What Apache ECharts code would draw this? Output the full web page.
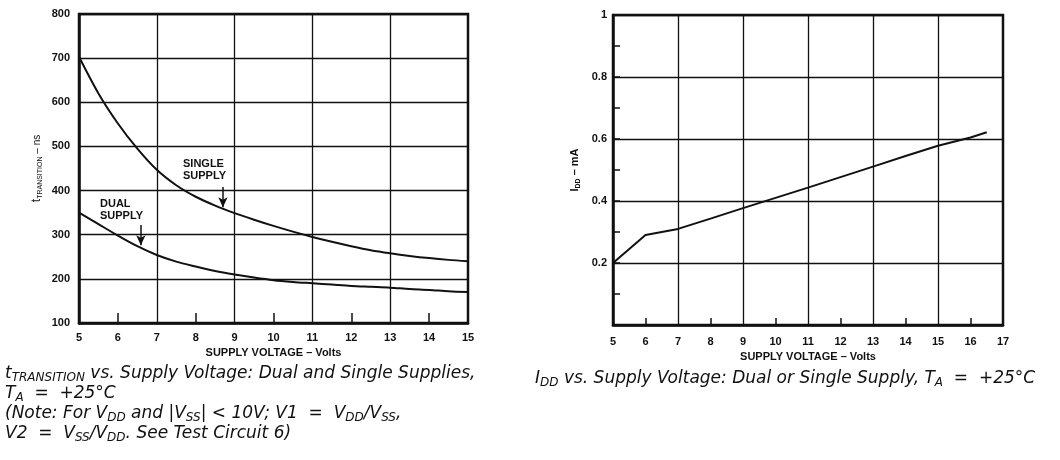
<!DOCTYPE html>
<html><head><meta charset="utf-8">
<script src="https://cdn.jsdelivr.net/npm/echarts@6/dist/echarts.min.js"></script>
<style>html,body{margin:0;padding:0;background:#fff}#c{width:1060px;height:460px}</style>
</head><body><div id="c"></div>
<script>
// ---- Left chart data ----
const leftXLabels = ['5','6','7','8','9','10','11','12','13','14','15'];
const leftYTicks = [100,200,300,400,500,600,700,800];
const curveX = [5, 5.5, 6, 6.5, 7, 7.5, 8, 8.5, 9, 9.5, 10, 10.5, 11, 11.5, 12, 12.5, 13, 13.5, 14, 14.5, 15];
const singleY = [703, 620, 552, 495, 447, 412, 386, 366, 349, 334, 320, 307, 295, 284, 274, 265, 258, 252, 247, 243, 240];
const dualY = [350, 324, 298, 274, 254, 239, 228, 218, 210, 203, 197, 193, 190, 187, 184, 182, 180, 177, 175, 172, 170];
// ---- Right chart data ----
const rightXLabels = ['5','6','7','8','9','10','11','12','13','14','15','16','17'];
const rightYLabels = ['0.2','0.4','0.6','0.8','1'];
const iddX = [5, 6, 7, 8, 9, 10, 11, 12, 13, 14, 15, 16, 16.5];
const iddY = [0.2, 0.29, 0.31, 0.343, 0.377, 0.41, 0.443, 0.477, 0.511, 0.545, 0.578, 0.605, 0.622];

const zip = (xs, ys) => xs.map((x, i) => [x, ys[i]]);
const FONT = 'Liberation Sans';
const CAP = 'DejaVu Sans';
const BLK = '#111';

const chart = echarts.init(document.getElementById('c'), null, {renderer: 'canvas'});

const gridBase = {show: true, borderColor: BLK, borderWidth: 2.5, backgroundColor: 'transparent'};
const tickLabel = {color: BLK, fontFamily: FONT, fontWeight: 'bold', fontSize: 11};
const axisName = {color: BLK, fontFamily: FONT, fontWeight: 'bold', fontSize: 11};
const capRich = {
  s: {fontSize: 17, fontStyle: 'italic', fontFamily: CAP, lineHeight: 20, fill: BLK},
  u: {fontSize: 12, fontStyle: 'italic', fontFamily: CAP, lineHeight: 12, verticalAlign: 'bottom', fill: BLK}
};

const option = {
  animation: false,
  grid: [
    Object.assign({left: 79, top: 14, width: 389, height: 309}, gridBase),
    Object.assign({left: 613, top: 15, width: 390, height: 310}, gridBase)
  ],
  xAxis: [
    {type: 'value', gridIndex: 0, min: 5, max: 15, show: false},
    {type: 'category', gridIndex: 0, data: leftXLabels, boundaryGap: false, position: 'bottom',
     axisLine: {show: true, lineStyle: {color: BLK, width: 2.5}},
     axisTick: {show: true, inside: true, length: 10, lineStyle: {color: BLK, width: 1.5},
                interval: (i) => i % 2 === 1},
     axisLabel: Object.assign({margin: 9, interval: 0}, tickLabel),
     splitLine: {show: true, lineStyle: {color: BLK, width: 1.3},
                 interval: (i) => i % 2 === 0 && i > 0 && i < leftXLabels.length - 1},
     name: 'SUPPLY VOLTAGE – Volts', nameLocation: 'middle', nameGap: 24, nameTextStyle: axisName},
    {type: 'value', gridIndex: 1, min: 5, max: 17, show: false},
    {type: 'category', gridIndex: 1, data: rightXLabels, boundaryGap: false, position: 'bottom',
     axisLine: {show: true, lineStyle: {color: BLK, width: 2.5}},
     axisTick: {show: true, inside: true, length: 7, lineStyle: {color: BLK, width: 1.5},
                interval: (i) => i % 2 === 1},
     axisLabel: Object.assign({margin: 11, interval: 0}, tickLabel),
     splitLine: {show: true, lineStyle: {color: BLK, width: 1.3},
                 interval: (i) => i % 2 === 0 && i > 0 && i < rightXLabels.length - 1},
     name: 'SUPPLY VOLTAGE – Volts', nameLocation: 'middle', nameGap: 26, nameTextStyle: axisName}
  ],
  yAxis: [
    {type: 'value', gridIndex: 0, min: 100, max: 800, interval: 100,
     axisLine: {show: true, lineStyle: {color: BLK, width: 2.5}},
     axisTick: {show: false},
     axisLabel: Object.assign({margin: 9,
       formatter: (v) => leftYTicks.includes(v) ? String(v) : ''}, tickLabel),
     splitLine: {show: true, lineStyle: {color: BLK, width: 1.3}},
     name: '{a|t}{b|TRANSITION}{c| – ns}', nameLocation: 'middle', nameGap: 35,
     nameTextStyle: {color: BLK, fontFamily: FONT,
       rich: {a: {fontSize: 12, fontFamily: FONT, color: BLK, lineHeight: 14},
              b: {fontSize: 7, fontFamily: FONT, color: BLK, lineHeight: 9, verticalAlign: 'bottom'},
              c: {fontSize: 10, fontFamily: FONT, color: BLK, lineHeight: 14}}}},
    {type: 'value', gridIndex: 1, min: 0, max: 1, interval: 0.2,
     axisLine: {show: true, lineStyle: {color: BLK, width: 2.5}},
     axisTick: {show: true, inside: true, length: 7, lineStyle: {color: BLK, width: 1.5}},
     minorTick: {show: true, splitNumber: 2, length: 7, lineStyle: {color: BLK, width: 1.5}},
     axisLabel: Object.assign({margin: 6,
       formatter: (v) => { const s = String(+v.toFixed(1)); return rightYLabels.includes(s) ? s : ''; }}, tickLabel),
     splitLine: {show: true, lineStyle: {color: BLK, width: 1.3}},
     name: '{a|I}{b|DD}{a| – mA}', nameLocation: 'middle', nameGap: 31,
     nameTextStyle: {color: BLK, fontFamily: FONT, fontWeight: 'bold',
       rich: {a: {fontSize: 11, fontFamily: FONT, fontWeight: 'bold', color: BLK, lineHeight: 14},
              b: {fontSize: 7, fontFamily: FONT, fontWeight: 'bold', color: BLK, lineHeight: 9, verticalAlign: 'bottom'}}}}
  ],
  series: [
    {type: 'line', name: 'Single Supply', xAxisIndex: 0, yAxisIndex: 0, data: zip(curveX, singleY),
     smooth: 0.3, showSymbol: false, lineStyle: {color: BLK, width: 2}, z: 5,
     markLine: {silent: true, symbol: ['none', 'arrow'], symbolSize: [7, 10], label: {show: false},
       lineStyle: {color: BLK, width: 1.5, type: 'solid'},
       data: [[{coord: [8.7, 408]}, {coord: [8.7, 362]}]]}},
    {type: 'line', name: 'Dual Supply', xAxisIndex: 0, yAxisIndex: 0, data: zip(curveX, dualY),
     smooth: 0.3, showSymbol: false, lineStyle: {color: BLK, width: 2}, z: 5,
     markLine: {silent: true, symbol: ['none', 'arrow'], symbolSize: [7, 10], label: {show: false},
       lineStyle: {color: BLK, width: 1.5, type: 'solid'},
       data: [[{coord: [6.59, 322]}, {coord: [6.59, 276]}]]}},
    {type: 'line', name: 'IDD', xAxisIndex: 2, yAxisIndex: 1, data: zip(iddX, iddY),
     smooth: false, showSymbol: false, lineStyle: {color: BLK, width: 2}, z: 5}
  ],
  graphic: [
    {type: 'text', left: 183, top: 158, z: 10,
     style: {text: 'SINGLE\nSUPPLY', fill: BLK, font: 'bold 11px "Liberation Sans"', lineHeight: 12}},
    {type: 'text', left: 100, top: 198, z: 10,
     style: {text: 'DUAL\nSUPPLY', fill: BLK, font: 'bold 11px "Liberation Sans"', lineHeight: 12}},
    {type: 'text', left: 5, top: 365, z: 10,
     style: {
       text: '{s|t}{u|TRANSITION}{s| vs. Supply Voltage: Dual and Single Supplies,}\n' +
             '{s|T}{u|A}{s|  =  +25°C}\n' +
             '{s|(Note: For V}{u|DD}{s| and |V}{u|SS}{s|| < 10V; V1  =  V}{u|DD}{s|/V}{u|SS}{s|,}\n' +
             '{s|V2  =  V}{u|SS}{s|/V}{u|DD}{s|. See Test Circuit 6)}',
       fill: BLK, rich: capRich}},
    {type: 'text', left: 535, top: 370, z: 10,
     style: {
       text: '{s|I}{u|DD}{s| vs. Supply Voltage: Dual or Single Supply, T}{u|A}{s|  =  +25°C}',
       fill: BLK, rich: capRich}}
  ]
};
chart.setOption(option);
</script>
</body></html>
